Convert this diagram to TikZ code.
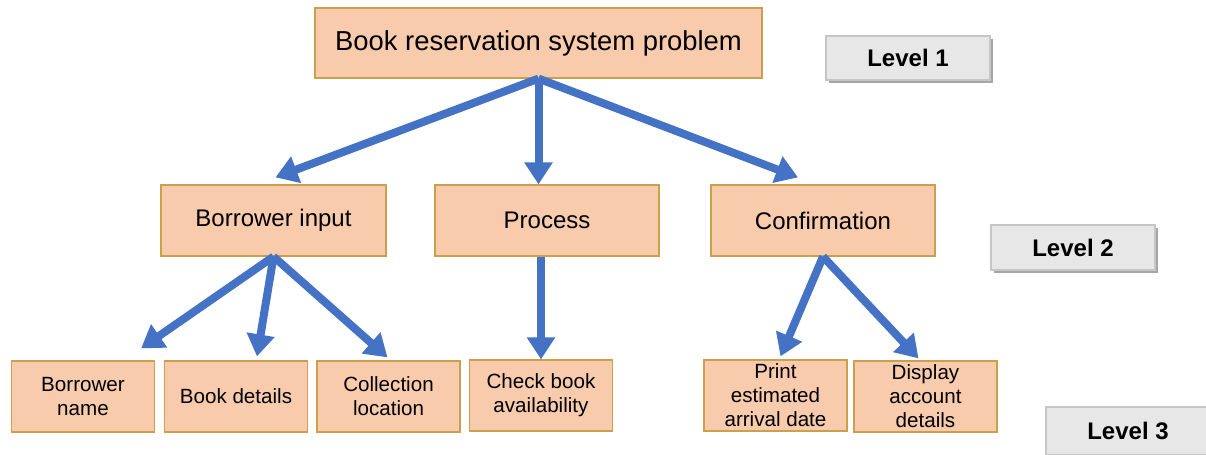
\documentclass[tikz,border=0pt]{standalone}
\usepackage{fontspec}
\setmainfont{Liberation Sans}
\usetikzlibrary{arrows.meta,shadows,calc}
\definecolor{boxfill}{HTML}{F8CBAD}
\definecolor{boxline}{HTML}{C9A04B}
\definecolor{arrowblue}{HTML}{4472C4}
\definecolor{levelfill}{HTML}{E7E7E7}
\definecolor{levelline}{HTML}{C6C6C6}
\def\fs#1#2{\fontsize{#1}{#2}\selectfont}

\begin{document}
\begin{tikzpicture}[x=0.5pt,y=-0.5pt,
  task/.style={draw=boxline,fill=boxfill,line width=0.6pt,inner sep=0pt,minimum height=35.5pt,align=center},
  subtask/.style={task,minimum width=71.5pt,font=\fs{10.3}{12}},
  level/.style={draw=levelline,fill=levelfill,line width=0.6pt,inner sep=0pt,minimum width=82pt,minimum height=22pt,
    font=\fs{12}{14}\bfseries,drop shadow={shadow xshift=1.5pt,shadow yshift=-1.5pt,fill=black,opacity=0.35}},
  link/.style={arrowblue,line width=4pt,-{Triangle[length=11pt,width=13.5pt]}}]
  \clip (0,0) rectangle (1206,455);
  % level 1
  \node[task,minimum width=223.5pt,minimum height=35pt,font=\fs{13.7}{16}] (top) at (538.5,43) {Book reservation system problem};
  \node[level] (lv1) at (908,58) {Level 1};
  % level 2
  \node[task,minimum width=112.5pt,font=\fs{12}{14}] (bi) at (273.5,220.5) {Borrower input};
  \node[task,minimum width=112pt,font=\fs{12}{14}] (pr) at (547,220.5) {Process};
  \node[task,minimum width=112pt,font=\fs{12}{14}] (cf) at (823,220.5) {Confirmation};
  \node[level,minimum height=22.5pt] (lv2) at (1073,247.5) {Level 2};
  % level 3
  \node[subtask] (bn) at (83,396.5) {Borrower\\name};
  \node[subtask] (bd) at (236,396.5) {Book details};
  \node[subtask] (cl) at (388.5,396.5) {Collection\\location};
  \node[subtask] (cb) at (541,395.5) {Check book\\availability};
  \node[subtask] (pe) at (775.5,395.5) {Print\\estimated\\arrival date};
  \node[subtask] (da) at (925.5,396.5) {Display\\account\\details};
  \node[level,minimum height=24pt] (lv3) at (1128,431) {Level 3};
  % arrows
  \draw[link] (top.south) -- ($(bi.north)+(2,-7)$);
  \draw[link] (top.south) -- (top.south |- pr.north);
  \draw[link] (top.south) -- ($(cf.north)+(-25,-7)$);
  \draw[link] (bi.south) -- ($(bn.north east)+(-14,-12)$);
  \draw[link] (bi.south) -- ($(bd.north)+(21,-4)$);
  \draw[link] (bi.south) -- ($(cl.north)+(-1,-3)$);
  \draw[link] (pr.south -| cb.north) -- (cb.north);
  \draw[link] (cf.south) -- ($(pe.north)+(5,-3)$);
  \draw[link] (cf.south) -- ($(da.north)+(-7,-2)$);
\end{tikzpicture}
\end{document}
